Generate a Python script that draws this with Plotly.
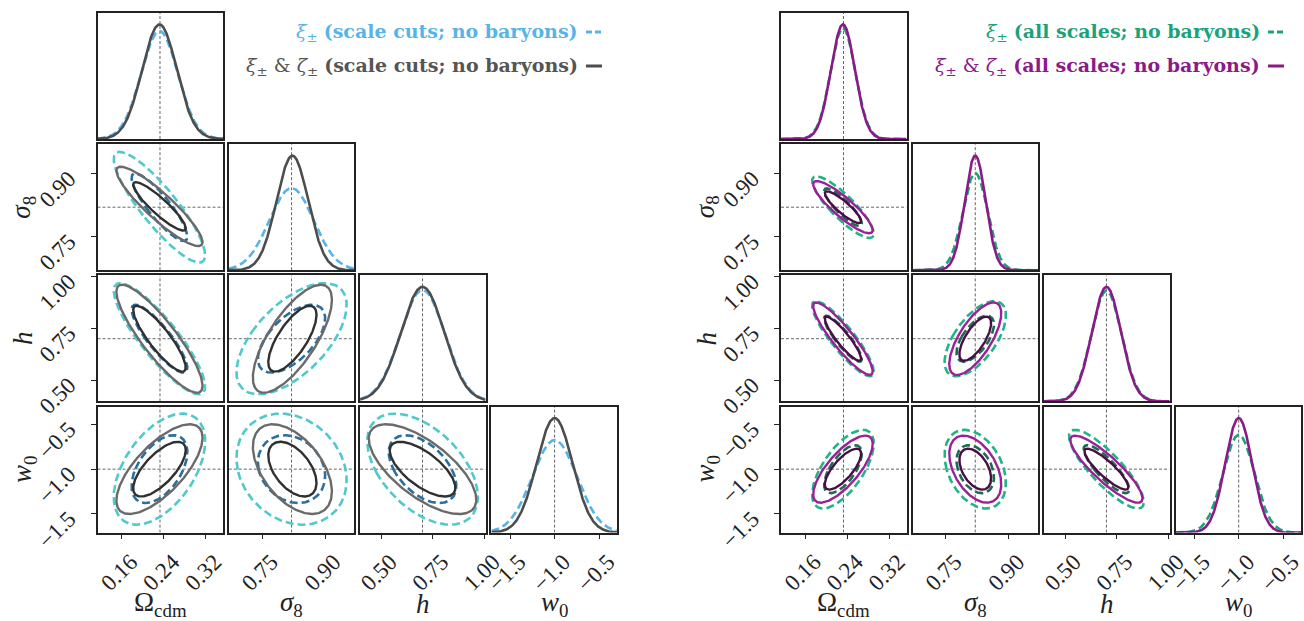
import numpy as np
import plotly.graph_objects as go

# ---------------- data ----------------
param_labels = ["Ω<sub>cdm</sub>", "<i>σ</i><sub>8</sub>", "<i>h</i>", "<i>w</i><sub>0</sub>"]
truth_values = [0.233, 0.820, 0.700, -1.000]
axis_ranges = [[0.114, 0.353], [0.670, 0.970], [0.397, 1.006], [-1.71, -0.30]]
tick_values = [[0.16, 0.24, 0.32], [0.75, 0.90], [0.50, 0.75, 1.00], [-1.5, -1.0, -0.5]]
tick_labels = [["0.16", "0.24", "0.32"], ["0.75", "0.90"], ["0.50", "0.75", "1.00"],
               ["−1.5", "−1.0", "−0.5"]]
pair_order = [(0, 1), (0, 2), (0, 3), (1, 2), (1, 3), (2, 3)]

# left corner: scale cuts
xi_cuts_mean = [0.232, 0.820, 0.700, -1.00]
xi_cuts_sigma = [0.035, 0.053, 0.108, 0.250]
xi_cuts_corr = [-0.87, -0.86, 0.50, 0.60, -0.20, -0.50]
xz_cuts_mean = [0.232, 0.822, 0.700, -1.00]
xz_cuts_sigma = [0.033, 0.038, 0.105, 0.202]
xz_cuts_corr = [-0.90, -0.87, 0.70, 0.72, -0.50, -0.68]

# right corner: all scales
xi_all_mean = [0.232, 0.820, 0.700, -1.00]
xi_all_sigma = [0.0236, 0.0295, 0.073, 0.177]
xi_all_corr = [-0.86, -0.88, 0.65, 0.62, -0.35, -0.84]
xz_all_mean = [0.232, 0.820, 0.700, -1.00]
xz_all_sigma = [0.0228, 0.0250, 0.0705, 0.151]
xz_all_corr = [-0.88, -0.90, 0.75, 0.70, -0.45, -0.87]

legend_texts = [
    ["<i>ξ</i><sub>±</sub> <b>(scale cuts; no baryons)</b>",
     "<i>ξ</i><sub>±</sub> & <i>ζ</i><sub>±</sub> <b>(scale cuts; no baryons)</b>"],
    ["<i>ξ</i><sub>±</sub> <b>(all scales; no baryons)</b>",
     "<i>ξ</i><sub>±</sub> & <i>ζ</i><sub>±</sub> <b>(all scales; no baryons)</b>"],
]

# ---------------- styles ----------------
styles = [
    {  # left
        "dashed": dict(mean=xi_cuts_mean, sigma=xi_cuts_sigma, corr=xi_cuts_corr,
                       c1d="#56B4E9", cin="#2B6F9E", cout="#4FC9CC"),
        "solid": dict(mean=xz_cuts_mean, sigma=xz_cuts_sigma, corr=xz_cuts_corr,
                      c1d="#4D4D4D", cin="#303030", cout="#6A6A6A"),
        "text": ["#56B4E9", "#555555"],
    },
    {  # right
        "dashed": dict(mean=xi_all_mean, sigma=xi_all_sigma, corr=xi_all_corr,
                       c1d="#1AA37A", cin="#1C6B55", cout="#20B486"),
        "solid": dict(mean=xz_all_mean, sigma=xz_all_sigma, corr=xz_all_corr,
                      c1d="#8B1A89", cin="#4A0E42", cout="#9A1F98"),
        "text": ["#1AA37A", "#8B1A89"],
    },
]

W, H = 1304, 621
col_x0 = [[97.5, 228.8, 360.1, 491.4], [781.0, 912.5, 1044.0, 1175.5]]
row_y0 = [13.0, 144.2, 275.4, 406.6]
PW, PH = 125.5, 126.0
FONT = "Liberation Serif"
LFONT = "DejaVu Serif"
DASH = "8px,4px"
K68, K95 = 2.30, 6.18
TICKSIZE = 23

fig = go.Figure()
layout = {}


def ellipse(mx, my, sx, sy, rho, k):
    cov = np.array([[sx * sx, rho * sx * sy], [rho * sx * sy, sy * sy]])
    vals, vecs = np.linalg.eigh(cov)
    t = np.linspace(0, 2 * np.pi, 241)
    circ = np.vstack([np.cos(t), np.sin(t)])
    pts = vecs @ (np.sqrt(k * vals)[:, None] * circ)
    return mx + pts[0], my + pts[1]


def gauss(x, m, s):
    return np.exp(-0.5 * ((x - m) / s) ** 2) / (s * np.sqrt(2 * np.pi))


n = 0
for p in range(2):
    st = styles[p]
    for r in range(4):
        for c in range(r + 1):
            n += 1
            xa = "x" if n == 1 else f"x{n}"
            ya = "y" if n == 1 else f"y{n}"
            x0 = col_x0[p][c]
            y0 = row_y0[r]
            xdom = [x0 / W, (x0 + PW) / W]
            ydom = [1 - (y0 + PH) / H, 1 - y0 / H]
            xr = axis_ranges[c]
            xaxis = dict(domain=xdom, range=xr, anchor=ya, showline=True, mirror=True,
                         linecolor="#222222", linewidth=1.6, showgrid=False, zeroline=False,
                         ticks="", showticklabels=False, fixedrange=True, automargin=False)
            yaxis = dict(domain=ydom, anchor=xa, showline=True, mirror=True,
                         linecolor="#222222", linewidth=1.6, showgrid=False, zeroline=False,
                         ticks="", showticklabels=False, fixedrange=True, automargin=False)
            if r == 3:
                xaxis.update(ticks="outside", ticklen=5, tickwidth=1.2, tickcolor="#222222",
                             tickvals=tick_values[c], ticktext=tick_labels[c], showticklabels=True,
                             tickangle=-45, ticklabelshift=9, ticklabeloverflow="allow",
                             tickfont=dict(family=FONT, size=TICKSIZE, color="#222222"))
            if c == 0 and r >= 1:
                yaxis.update(ticks="outside", ticklen=5, tickwidth=1.2, tickcolor="#222222",
                             tickvals=tick_values[r], ticktext=tick_labels[r], showticklabels=True,
                             tickangle=-45, ticklabelstandoff=17, ticklabelshift=2,
                             ticklabeloverflow="allow",
                             tickfont=dict(family=FONT, size=TICKSIZE, color="#222222"))
            if r == c:
                xs = np.linspace(xr[0], xr[1], 400)
                yd = gauss(xs, st["dashed"]["mean"][c], st["dashed"]["sigma"][c])
                ys = gauss(xs, st["solid"]["mean"][c], st["solid"]["sigma"][c])
                ymax = 1.1 * max(yd.max(), ys.max())
                yaxis["range"] = [0, ymax]
                fig.add_trace(go.Scatter(x=[truth_values[c]] * 2, y=[0, ymax], mode="lines",
                                         line=dict(color="#666666", width=1, dash="3px,2px"),
                                         xaxis=xa, yaxis=ya, showlegend=False, hoverinfo="skip"))
                fig.add_trace(go.Scatter(x=xs, y=yd, mode="lines",
                                         line=dict(color=st["dashed"]["c1d"], width=2.6, dash=DASH),
                                         xaxis=xa, yaxis=ya, showlegend=False))
                fig.add_trace(go.Scatter(x=xs, y=ys, mode="lines",
                                         line=dict(color=st["solid"]["c1d"], width=2.6),
                                         xaxis=xa, yaxis=ya, showlegend=False))
            else:
                yr = axis_ranges[r]
                yaxis["range"] = yr
                fig.add_trace(go.Scatter(x=[truth_values[c]] * 2, y=yr, mode="lines",
                                         line=dict(color="#666666", width=1, dash="3px,2px"),
                                         xaxis=xa, yaxis=ya, showlegend=False, hoverinfo="skip"))
                fig.add_trace(go.Scatter(x=xr, y=[truth_values[r]] * 2, mode="lines",
                                         line=dict(color="#666666", width=1, dash="3px,2px"),
                                         xaxis=xa, yaxis=ya, showlegend=False, hoverinfo="skip"))
                pi = pair_order.index((c, r))
                for key in ["dashed", "solid"]:
                    d = st[key]
                    for k, col in [(K95, d["cout"]), (K68, d["cin"])]:
                        ex, ey = ellipse(d["mean"][c], d["mean"][r], d["sigma"][c], d["sigma"][r],
                                         d["corr"][pi], k)
                        fig.add_trace(go.Scatter(
                            x=ex, y=ey, mode="lines",
                            line=dict(color=col, width=2.4 if key == "solid" else 2.6,
                                      dash=DASH if key == "dashed" else "solid"),
                            xaxis=xa, yaxis=ya, showlegend=False))
            layout["xaxis" if n == 1 else f"xaxis{n}"] = xaxis
            layout["yaxis" if n == 1 else f"yaxis{n}"] = yaxis

annotations = []
shapes = []
for p in range(2):
    for c in range(4):
        cx = (col_x0[p][c] + PW / 2) / W
        annotations.append(dict(x=cx, y=1 - 604 / H, xref="paper", yref="paper",
                                text=param_labels[c], showarrow=False,
                                font=dict(family=FONT, size=27, color="#222222"),
                                xanchor="center", yanchor="middle"))
    for r in range(1, 4):
        cy = 1 - (row_y0[r] + PH / 2) / H
        lx = (col_x0[p][0] - 74) / W
        annotations.append(dict(x=lx, y=cy, xref="paper", yref="paper",
                                text=param_labels[r], showarrow=False, textangle=-90,
                                font=dict(family=FONT, size=27, color="#222222"),
                                xanchor="center", yanchor="middle"))
    right_edge = [580.0, 1262.0][p]
    for i, ly in enumerate([32.0, 66.0]):
        annotations.append(dict(x=right_edge / W, y=1 - ly / H, xref="paper", yref="paper",
                                text=legend_texts[p][i], showarrow=False,
                                font=dict(family=LFONT, size=19, color=styles[p]["text"][i]),
                                xanchor="right", yanchor="middle"))
        key = "dashed" if i == 0 else "solid"
        shapes.append(dict(type="line", xref="paper", yref="paper",
                           x0=(right_edge + 6) / W, x1=(right_edge + 22) / W,
                           y0=1 - ly / H, y1=1 - ly / H,
                           line=dict(color=styles[p][key]["c1d"], width=3,
                                     dash="6px,3px" if i == 0 else "solid")))

fig.update_layout(width=W, height=H, margin=dict(l=0, r=0, t=0, b=0),
                  paper_bgcolor="white", plot_bgcolor="white", showlegend=False,
                  annotations=annotations, shapes=shapes, **layout)
fig.write_html("out.html")
